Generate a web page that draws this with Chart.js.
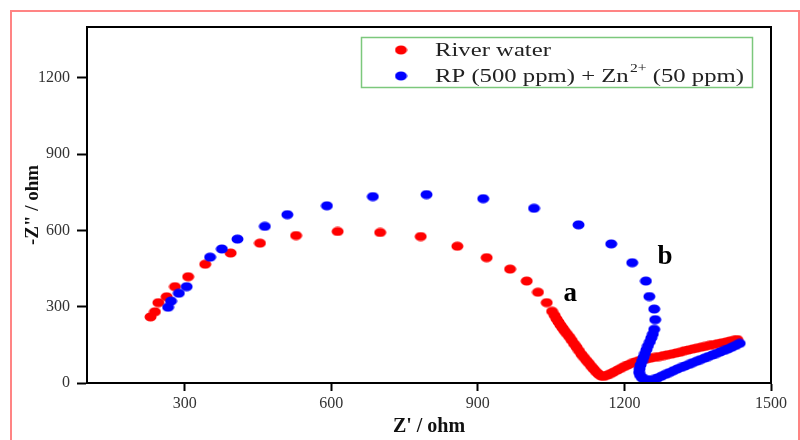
<!DOCTYPE html>
<html>
<head>
<meta charset="utf-8">
<title>Nyquist plot</title>
<script src="https://cdn.jsdelivr.net/npm/chart.js@4.4.1/dist/chart.umd.min.js"></script>
<style>
  html, body { margin: 0; padding: 0; background: #fff; }
  #wrap { position: relative; width: 800px; height: 440px; overflow: hidden; }
  #frame { position: absolute; left: 10px; top: 10px; width: 786px; height: 440px; border: 2px solid #ff8484; }
  #chart { position: absolute; left: 0; top: 0; }
</style>
</head>
<body>
<div id="wrap">
  <div id="frame"></div>
  <canvas id="chart" width="800" height="440"></canvas>
</div>
<script>
// Z' (ohm) and -Z'' (ohm)
const riverReal = [230, 239, 246, 263, 280, 307, 342, 394, 454, 528, 613, 700, 783, 858, 918, 966, 1000, 1023, 1041, 1052,
  1057, 1061, 1065, 1069, 1073, 1077, 1082, 1087, 1092, 1097, 1102, 1107, 1112, 1117, 1122, 1127, 1132, 1137, 1142, 1147, 1152, 1158,
  1165, 1172, 1178, 1186, 1193, 1200, 1207, 1214, 1222, 1230, 1238, 1246, 1254, 1262, 1271, 1280, 1288, 1297, 1306, 1314,
  1323, 1331, 1340, 1348, 1357, 1365, 1374, 1382, 1391, 1399, 1408, 1416, 1424, 1431];
const riverImag = [260, 280, 316, 339, 379, 418, 467, 511, 550, 580, 596, 592, 576, 538, 493, 448, 401, 357, 316, 282,
  266, 252, 240, 228, 217, 206, 194, 182, 168, 154, 141, 127, 113, 101, 89, 78, 66, 55, 44, 35, 28, 26,
  31, 37, 43, 51, 58, 65, 71, 77, 83, 88, 92, 95, 98, 101, 104, 108, 111, 114, 118, 121,
  127, 130, 134, 137, 141, 144, 148, 151, 155, 158, 161, 165, 168, 171];

const rpReal = [266, 272, 288, 304, 352, 376, 408, 464, 510, 591, 685, 795, 911, 1015, 1106, 1173, 1216, 1244, 1251, 1261, 1263, 1261,
  1258, 1255, 1252, 1248, 1245, 1242, 1239, 1236, 1233, 1231, 1230, 1232, 1236, 1243, 1251, 1260,
  1268, 1276, 1284, 1292, 1300, 1308, 1316, 1324, 1332, 1340, 1348, 1356, 1364, 1372, 1380, 1388, 1396, 1404, 1412, 1420, 1428, 1436];
const rpImag = [298, 322, 353, 379, 495, 527, 566, 616, 662, 697, 733, 741, 725, 687, 622, 547, 473, 401, 340, 291, 249, 211,
  192, 177, 162, 146, 131, 116, 101, 86, 71, 56, 42, 30, 20, 14, 12, 14,
  20, 27, 34, 41, 48, 55, 61, 67, 73, 80, 86, 92, 98, 104, 110, 116, 122, 128, 134, 141, 148, 156];

const xTicks = [300, 600, 900, 1200, 1500];
const yTicks = [0, 300, 600, 900, 1200];

const curveLabels = ['a', 'b'];
const curveLabelX = [1089, 1283];
const curveLabelY = [349, 496];

const SERIF = '"Liberation Serif", "Times New Roman", serif';

// slightly wide dots, like the original figure
function ellipseDot(color) {
  const c = document.createElement('canvas');
  c.width = 13;
  c.height = 10;
  const g = c.getContext('2d');
  g.fillStyle = color;
  g.beginPath();
  g.ellipse(6.5, 5, 6, 4.5, 0, 0, Math.PI * 2);
  g.fill();
  return c;
}

const redDot = ellipseDot('#ff0000');
const blueDot = ellipseDot('#0000ff');

function toPoints(xs, ys) {
  return xs.map((x, i) => ({ x: x, y: ys[i] }));
}

// frame, curve letters and the boxed legend
const decorations = {
  id: 'decorations',
  afterDatasetsDraw(chart) {
    const { ctx, chartArea: a, scales } = chart;
    ctx.save();
    ctx.strokeStyle = '#000';
    ctx.lineWidth = 2;
    ctx.strokeRect(a.left, a.top, a.right - a.left, a.bottom - a.top);

    ctx.fillStyle = '#000';
    ctx.font = 'bold 27px ' + SERIF;
    ctx.textAlign = 'center';
    ctx.textBaseline = 'middle';
    curveLabels.forEach((t, i) => {
      ctx.fillText(t, scales.x.getPixelForValue(curveLabelX[i]), scales.y.getPixelForValue(curveLabelY[i]));
    });

    // legend
    ctx.strokeStyle = '#7cc87c';
    ctx.lineWidth = 1.5;
    ctx.strokeRect(361.5, 37.5, 391, 50);
    ctx.drawImage(redDot, 401 - 6.5, 50 - 5);
    ctx.drawImage(blueDot, 401 - 6.5, 76 - 5);

    // the original lettering is a bit wide, so stretch it horizontally
    ctx.translate(435, 0);
    ctx.scale(1.3, 1);
    ctx.fillStyle = '#222';
    ctx.textAlign = 'left';
    ctx.font = '19px ' + SERIF;
    ctx.fillText('River water', 0, 51);
    let x = 0;
    const part1 = 'RP (500 ppm) + Zn';
    ctx.fillText(part1, x, 77);
    x += ctx.measureText(part1).width + 1;
    ctx.font = '12px ' + SERIF;
    ctx.fillText('2+', x, 69);
    x += ctx.measureText('2+').width;
    ctx.font = '19px ' + SERIF;
    ctx.fillText(' (50 ppm)', x, 77);
    ctx.restore();
  }
};

new Chart(document.getElementById('chart'), {
  type: 'scatter',
  data: {
    datasets: [
      {
        label: 'River water',
        data: toPoints(riverReal, riverImag),
        pointStyle: redDot,
        backgroundColor: '#ff0000',
        order: 1
      },
      {
        label: 'RP (500 ppm) + Zn2+ (50 ppm)',
        data: toPoints(rpReal, rpImag),
        pointStyle: blueDot,
        backgroundColor: '#0000ff',
        order: 0
      }
    ]
  },
  options: {
    responsive: false,
    animation: false,
    events: [],
    layout: { padding: { top: 27, right: 29, left: 0, bottom: 0 } },
    plugins: {
      legend: { display: false },
      tooltip: { enabled: false }
    },
    scales: {
      x: {
        type: 'linear',
        min: 100,
        max: 1500,
        afterBuildTicks: s => { s.ticks = xTicks.map(v => ({ value: v })); },
        afterFit: s => { s.height = 57; },
        grid: { drawOnChartArea: false, drawTicks: true, tickLength: 8, tickWidth: 2, tickColor: '#000' },
        border: { display: true, color: '#000', width: 2 },
        ticks: { color: '#333', font: { family: SERIF, size: 16 }, padding: 3, maxRotation: 0, callback: v => String(v) },
        title: {
          display: true,
          text: "Z' / ohm",
          color: '#111',
          font: { family: SERIF, size: 20, weight: 'bold' },
          padding: { top: 0, bottom: 1 }
        }
      },
      y: {
        type: 'linear',
        min: 0,
        max: 1400,
        afterBuildTicks: s => { s.ticks = yTicks.map(v => ({ value: v })); },
        afterFit: s => { s.width = 87; },
        grid: { drawOnChartArea: false, drawTicks: true, tickLength: 10, tickWidth: 2, tickColor: '#000' },
        border: { display: true, color: '#000', width: 2 },
        ticks: { color: '#333', font: { family: SERIF, size: 16 }, padding: 7, callback: v => String(v) },
        title: {
          display: true,
          text: '-Z" / ohm',
          color: '#111',
          font: { family: SERIF, size: 19, weight: 'bold' },
          padding: { top: 22, bottom: 0 }
        }
      }
    }
  },
  plugins: [decorations]
});
</script>
</body>
</html>
